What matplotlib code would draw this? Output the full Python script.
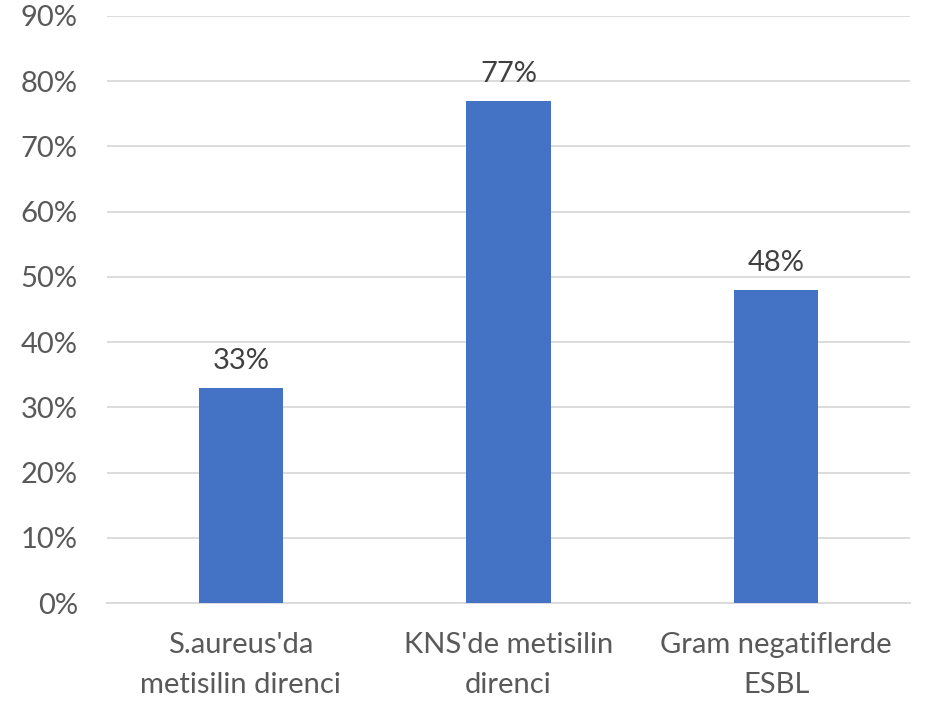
import matplotlib
matplotlib.use("Agg")
import matplotlib.pyplot as plt
from matplotlib.ticker import FuncFormatter, MultipleLocator

categories = ["S.aureus'da\nmetisilin direnci", "KNS'de metisilin\ndirenci", "Gram negatiflerde\nESBL"]
values = [33, 77, 48]

plt.rcParams['font.family'] = ['Lato', 'DejaVu Sans']
label_color = "#595959"
value_color = "#404040"

fig = plt.figure(figsize=(9.30, 7.01), dpi=100)
ax = fig.add_axes([107 / 930, 1 - 603 / 701, (910 - 107) / 930, (603 - 16) / 701])

x = list(range(len(categories)))
ax.bar(x, values, width=0.314, color="#4472C4", zorder=3)
for xi, v in zip(x, values):
    ax.annotate(f"{v}%", (xi, v), xytext=(0, 10), textcoords="offset points",
                ha="center", va="bottom", fontsize=21, color=value_color)

ax.set_xlim(-0.5, 2.5)
ax.set_ylim(0, 90)
ax.yaxis.set_major_locator(MultipleLocator(10))
ax.yaxis.set_major_formatter(FuncFormatter(lambda v, p: f"{v:.0f}%"))
ax.grid(axis="y", color="#D9D9D9", linewidth=1.3, zorder=0)
ax.set_xticks(x)
ax.set_xticklabels(categories, fontsize=21, color=label_color, linespacing=1.65)
ax.tick_params(axis="y", labelsize=21, labelcolor=label_color, length=0, pad=21)
ax.tick_params(axis="x", length=0, pad=21)
for s in ["top", "right", "left"]:
    ax.spines[s].set_visible(False)
ax.spines["bottom"].set_color("#D9D9D9")
ax.spines["bottom"].set_linewidth(1.3)

fig.savefig("out.png", dpi=100)
